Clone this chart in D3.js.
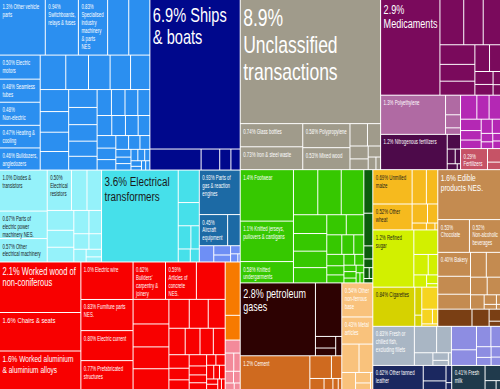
<!DOCTYPE html>
<html>
<head>
<meta charset="utf-8">
<script src="https://cdn.jsdelivr.net/npm/d3@7"></script>
<style>
  body { margin: 0; background: #fff; }
  svg { display: block; }
</style>
</head>
<body>
<div id="chart"></div>
<script>
// export shares in % (names only for labelled boxes)
const machineryNames = ["Other vehicle parts", "Switchboards, relays & fuses", "Specialised industry machinery & parts NES", "", "", "Electric motors", "Seamless tubes", "Non-electric", "Heating & cooling", "Bulldozers, angledozers"];
const machineryValues = [1.3, 0.94, 0.83, 0.6, 0.6, 0.5, 0.48, 0.48, 0.47, 0.46, 0.45, 0.4, 0.38, 0.36, 0.34, 0.32, 0.3, 0.28, 0.27, 0.26, 0.25, 0.24, 0.22, 0.2, 0.19, 0.18, 0.17, 0.16, 0.15, 0.14, 0.13, 0.12, 0.12, 0.11, 0.1, 0.09, 0.08, 0.07, 0.06, 0.05, 0.05, 0.04, 0.04, 0.03, 0.03, 0.02, 0.02, 0.02];
const shipsNames = ["Ships & boats"];
const shipsValues = [6.9, 0.55, 0.2, 0.12, 0.1];
const paleCyanNames = ["Diodes & transistors", "Parts of electric power machinery NES.", "Other electrical machinery", "Electrical resistors"];
const paleCyanValues = [1.0, 0.67, 0.57, 0.5, 0.32, 0.3, 0.27, 0.23, 0.2, 0.18, 0.15, 0.12, 0.1, 0.08, 0.06, 0.04];
const cyanNames = ["Electrical transformers"];
const cyanValues = [3.6, 0.35, 0.25, 0.15, 0.1, 0.08, 0.06];
const aircraftNames = ["Parts of gas & reaction engines", "Aircraft equipment"];
const aircraftValues = [0.93, 0.45, 0.2];
const periwinkleAValues = [0.12, 0.08, 0.06, 0.04, 0.03, 0.01];
const woodNames = ["Worked wood of non-coniferous", "Chairs & seats", "Worked aluminium & aluminium alloys", "Electric wire", "Furniture parts NES.", "Electric current", "Prefabricated structures", "Builders' carpentry & joinery", "Articles of concrete NES."];
const woodValues = [2.1, 1.6, 1.6, 1.0, 0.83, 0.8, 0.77, 0.62, 0.59, 0.55, 0.45, 0.42, 0.4, 0.38, 0.3, 0.28, 0.25, 0.22, 0.2, 0.18, 0.16, 0.14, 0.12, 0.1, 0.1, 0.08, 0.07, 0.06, 0.05, 0.05, 0.05, 0.04, 0.04, 0.03, 0.03, 0.02, 0.02];
const orangeValues = [0.41, 0.19];
const pinkValues = [0.1, 0.08, 0.06, 0.05, 0.04, 0.03, 0.02];
const unclassifiedNames = ["Unclassified transactions", "Glass bottles", "Iron & steel waste", "Polypropylene", "Mixed wood"];
const unclassifiedValues = [8.9, 0.74, 0.73, 0.58, 0.53, 0.2, 0.15, 0.12, 0.1, 0.07, 0.05, 0.03];
const pharmaNames = ["Medicaments"];
const pharmaValues = [2.9, 0.55, 0.45, 0.4, 0.35, 0.3, 0.25, 0.2, 0.15, 0.12, 0.1, 0.05, 0.04];
const mauveNames = ["Polyethylene"];
const mauveValues = [1.3, 0.15, 0.1, 0.05];
const darkPurpleNames = ["Nitrogenous fertilizers"];
const darkPurpleValues = [1.2, 0.1, 0.06, 0.04, 0.03, 0.01];
const magentaValues = [0.2, 0.15, 0.14, 0.12, 0.1, 0.09, 0.08, 0.06, 0.05, 0.04, 0.03, 0.03];
const roseNames = ["Fertilizers"];
const roseValues = [0.29, 0.09, 0.05];
const textilesNames = ["Footwear", "Knitted jerseys, pullovers & cardigans", "Knitted undergarments"];
const textilesValues = [1.4, 1.1, 0.58, 0.56, 0.54, 0.52, 0.32, 0.3, 0.28, 0.26, 0.2, 0.18, 0.15, 0.12, 0.1, 0.1, 0.08, 0.07, 0.06, 0.05, 0.04, 0.04, 0.03, 0.03, 0.02, 0.02];
const darkGreenValues = [0.2, 0.15, 0.06, 0.04, 0.03, 0.02, 0.02];
const petroleumNames = ["petroleum gases"];
const petroleumValues = [2.8, 0.72, 0.12, 0.08, 0.06];
const cementNames = ["Cement"];
const cementValues = [1.2, 0.25, 0.12, 0.08, 0.05, 0.03, 0.02];
const nonferrousNames = ["Other non-ferrous base", "Metal articles"];
const nonferrousValues = [0.54, 0.43, 0.25, 0.2, 0.12, 0.08, 0.05, 0.02];
const cerealsNames = ["Unmilled maize", "Other wheat"];
const cerealsValues = [0.69, 0.52, 0.25, 0.2, 0.15, 0.1, 0.05, 0.03, 0.01];
const sugarNames = ["Refined sugar"];
const sugarValues = [1.2, 0.3, 0.15, 0.1, 0.08, 0.05, 0.02];
const tobaccoNames = ["Cigarettes"];
const tobaccoValues = [0.84, 0.1, 0.04];
const goldenValues = [0.18, 0.08, 0.04, 0.02];
const edibleNames = ["Edible products NES.", "Chocolate", "Non-alcoholic beverages", "Bakery"];
const edibleValues = [1.6, 0.53, 0.52, 0.4, 0.3, 0.25, 0.2, 0.18, 0.15, 0.12, 0.1, 0.06, 0.03, 0.02, 0.01];
const coffeeValues = [0.3, 0.15, 0.07, 0.03];
const fishNames = ["Fresh or chilled fish, excluding fillets"];
const fishValues = [0.83, 0.3, 0.2, 0.12, 0.06, 0.04, 0.02];
const periwinkleBValues = [0.3, 0.2, 0.15, 0.1, 0.08, 0.06, 0.05, 0.04];
const leatherNames = ["Other tanned leather"];
const leatherValues = [0.62, 0.18, 0.1, 0.05, 0.02];
const milkNames = ["Fresh milk"];
const milkValues = [0.41, 0.12, 0.05, 0.02];

// styles
const colors = {
  machinery: "#2b8ff0", ships: "#00088c", paleCyan: "#95f2fa", cyan: "#46e0ea",
  aircraft: "#1c6aa5", periwinkleA: "#6e8ff5", wood: "#f80000", orange: "#f77a00",
  pink: "#f38a9a", unclassified: "#a09b8b", pharma: "#7a0a5c", mauve: "#b06aa3",
  darkPurple: "#4d0a4a", magenta: "#b428b4", rose: "#c65366", textiles: "#36c800",
  darkGreen: "#0c5c0c", petroleum: "#2d0202", cement: "#cf6a1f", nonferrous: "#f9c27c",
  cereals: "#f6ba1e", sugar: "#d2f000", tobacco: "#d6d200", golden: "#f6d420",
  edible: "#c48b50", coffee: "#7a3f14", fish: "#a9b6c4", periwinkleB: "#8d8de2",
  leather: "#1b2860", milk: "#203a4c"
};
const darkText = new Set(["paleCyan", "cyan", "cereals", "sugar", "tobacco"]);
const bigSize = {
  "Unclassified transactions": 24, "Ships & boats": 20, "Electrical transformers": 13.5,
  "Medicaments": 12.5, "Worked wood of non-coniferous": 10.3, "Chairs & seats": 8,
  "Worked aluminium & aluminium alloys": 9, "petroleum gases": 12.3, "Edible products NES.": 9
};

const W = 500, H = 389;

function group(id, values, names = []) {
  return { id, children: values.map((v, i) => ({ id, name: names[i] || "", value: v })) };
}
const box = (split, ...children) => ({ split, children });

// nesting of the communities: h = side by side, v = stacked
const layout = box("h",
  box("v",
    box("h", group("machinery", machineryValues, machineryNames), group("ships", shipsValues, shipsNames)),
    box("h", group("paleCyan", paleCyanValues, paleCyanNames), group("cyan", cyanValues, cyanNames),
      box("v", group("aircraft", aircraftValues, aircraftNames), group("periwinkleA", periwinkleAValues))),
    box("h", group("wood", woodValues, woodNames),
      box("v", group("orange", orangeValues), group("pink", pinkValues)))
  ),
  box("v",
    box("h", group("unclassified", unclassifiedValues, unclassifiedNames),
      box("v", group("pharma", pharmaValues, pharmaNames),
        box("h",
          box("v", group("mauve", mauveValues, mauveNames), group("darkPurple", darkPurpleValues, darkPurpleNames)),
          box("v", group("magenta", magentaValues), group("rose", roseValues, roseNames))))),
    box("h",
      box("v",
        box("h", group("textiles", textilesValues, textilesNames), group("darkGreen", darkGreenValues)),
        box("h", box("v", group("petroleum", petroleumValues, petroleumNames), group("cement", cementValues, cementNames)),
          group("nonferrous", nonferrousValues, nonferrousNames))),
      box("v",
        box("h",
          box("v", group("cereals", cerealsValues, cerealsNames), group("sugar", sugarValues, sugarNames),
            box("h", group("tobacco", tobaccoValues, tobaccoNames), group("golden", goldenValues))),
          box("v", group("edible", edibleValues, edibleNames), group("coffee", coffeeValues))),
        box("v",
          box("h", group("fish", fishValues, fishNames), group("periwinkleB", periwinkleBValues)),
          box("h", group("leather", leatherValues, leatherNames), group("milk", milkValues, milkNames))))
    )
  )
);

function tile(node, x0, y0, x1, y1) {
  const s = node.data.split;
  if (s === "h") d3.treemapDice(node, x0, y0, x1, y1);
  else if (s === "v") d3.treemapSlice(node, x0, y0, x1, y1);
  else d3.treemapSquarify(node, x0, y0, x1, y1);
}

const root = d3.hierarchy(layout)
  .sum(d => d.children ? 0 : d.value)
  .sort((a, b) => (a.children || b.children) ? 0 : b.value - a.value);

d3.treemap().size([W, H]).paddingInner(1).tile(tile)(root);

const svg = d3.select("#chart").append("svg")
  .attr("width", W).attr("height", H)
  .attr("viewBox", [0, 0, W, H]);

svg.append("rect").attr("width", W).attr("height", H).attr("fill", "#fff");

const leaves = root.leaves();

svg.append("g").selectAll("rect")
  .data(leaves)
  .join("rect")
  .attr("x", d => d.x0).attr("y", d => d.y0)
  .attr("width", d => Math.max(0, d.x1 - d.x0))
  .attr("height", d => Math.max(0, d.y1 - d.y0))
  .attr("fill", d => colors[d.data.id]);

const fmt = v => v >= 1 ? v.toFixed(1) : v.toFixed(2);

const labels = svg.append("g")
  .style("font-family", "'Liberation Sans', Arial, sans-serif");

leaves.filter(d => d.data.name).forEach(d => {
  const big = bigSize[d.data.name];
  let fs = big || 7;
  const sc = big ? 0.73 : 0.62;
  const w = d.x1 - d.x0, h = d.y1 - d.y0;
  const maxW = (w - 4.5) / sc;

  const g = labels.append("g")
    .attr("transform", `translate(${d.x0 + 2.5},${d.y0}) scale(${sc},1)`);
  const text = g.append("text")
    .attr("fill", darkText.has(d.data.id) ? "#1a1a1a" : "#fff");

  const words = (fmt(d.data.value) + "% " + d.data.name).split(" ");

  // shrink a little when a single word is wider than the box
  text.attr("font-size", fs);
  const probe = text.append("tspan");
  let widest = 0;
  for (const word of words) {
    probe.text(word);
    widest = Math.max(widest, probe.node().getComputedTextLength());
  }
  probe.remove();
  if (widest > maxW) fs = Math.max(4.5, fs * maxW / widest);
  text.attr("font-size", fs);

  const lh = big ? fs * 1.12 : 7.9;
  const first = big ? fs + 2 : 9.5;
  if (h < first) { g.remove(); return; }

  let line = [], n = 0;
  let tspan = text.append("tspan").attr("x", 0).attr("y", first);
  for (const word of words) {
    line.push(word);
    tspan.text(line.join(" "));
    if (tspan.node().getComputedTextLength() > maxW && line.length > 1) {
      line.pop();
      tspan.text(line.join(" "));
      line = [word];
      n++;
      const y = first + n * lh;
      if (y > h - 1) break;
      tspan = text.append("tspan").attr("x", 0).attr("y", y).text(word);
    }
  }
});
</script>
</body>
</html>
